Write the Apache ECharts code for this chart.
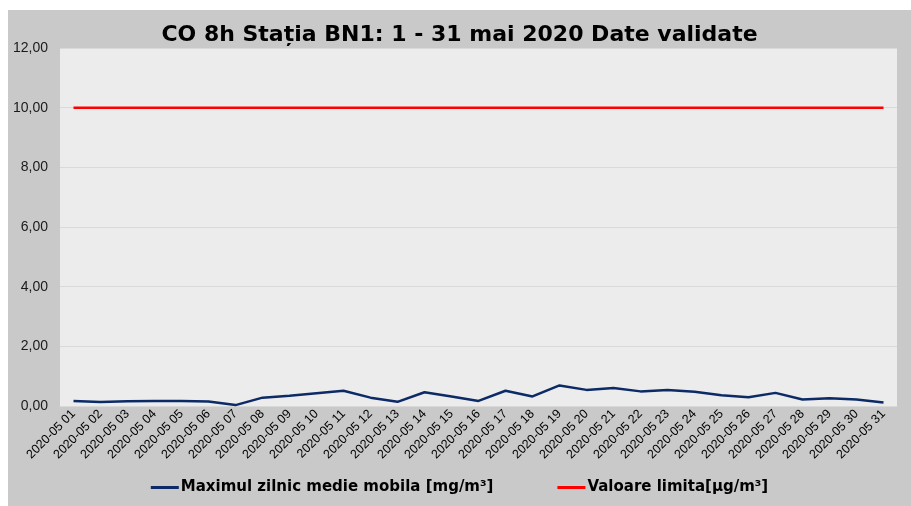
<!DOCTYPE html>
<html>
<head>
<meta charset="utf-8">
<script src="https://cdn.jsdelivr.net/npm/echarts@6/dist/echarts.min.js"></script>
<style>
  html, body { margin: 0; padding: 0; background: #ffffff; }
  #main { position: absolute; left: 8px; top: 10px; width: 903px; height: 496px; }
</style>
</head>
<body>
<div id="main"></div>
<script>
// zilele din mai 2020
var zile = [];
for (var d = 1; d <= 31; d++) {
    zile.push('2020-05 ' + (d < 10 ? '0' + d : d));
}
// maximul zilnic al mediei mobile pe 8h [mg/m3]
var maximZilnic = [0.17, 0.13, 0.16, 0.17, 0.17, 0.15, 0.03, 0.28, 0.34, 0.43,
                   0.51, 0.28, 0.14, 0.46, 0.32, 0.17, 0.51, 0.32, 0.69, 0.54,
                   0.60, 0.49, 0.54, 0.48, 0.36, 0.29, 0.44, 0.22, 0.26, 0.22, 0.12];
// valoarea limita
var limita = [];
for (var i = 0; i < 31; i++) { limita.push(10); }

var numeSerie1 = 'Maximul zilnic medie mobila [mg/m³]';
var numeSerie2 = 'Valoare limita[µg/m³]';

var myChart = echarts.init(document.getElementById('main'));

myChart.setOption({
    backgroundColor: '#c9c9c9',
    animation: false,
    textStyle: { fontFamily: 'Liberation Sans, Arial, sans-serif' },
    title: {
        text: 'CO 8h Stația BN1: 1 - 31 mai 2020 Date validate',
        left: 'center',
        top: 9,
        textStyle: { fontSize: 22, fontWeight: 'bold', color: '#000000', fontFamily: 'DejaVu Sans' }
    },
    legend: {
        bottom: 6,
        left: 'center',
        itemWidth: 28,
        itemHeight: 3,
        itemGap: 64,
        icon: 'rect',
        textStyle: { fontSize: 15, fontWeight: 'bold', color: '#000000', fontFamily: 'DejaVu Sans', padding: [0, 0, 0, -3] },
        data: [numeSerie1, numeSerie2]
    },
    grid: {
        show: true,
        backgroundColor: '#ececec',
        borderWidth: 0,
        left: 52,
        right: 14,
        top: 38,
        bottom: 100
    },
    xAxis: {
        type: 'category',
        data: zile,
        boundaryGap: true,
        axisTick: { show: false },
        axisLine: { show: true, lineStyle: { color: '#d9d9d9' } },
        axisLabel: {
            rotate: 45,
            interval: 0,
            fontSize: 12.5,
            color: '#000000',
            margin: 6
        }
    },
    yAxis: {
        type: 'value',
        min: 0,
        max: 12,
        interval: 2,
        axisLine: { show: false },
        axisTick: { show: false },
        splitLine: { lineStyle: { color: '#d9d9d9', width: 1 } },
        axisLabel: {
            fontSize: 14,
            color: '#1a1a1a',
            margin: 12,
            formatter: function (v) { return v.toFixed(2).replace('.', ','); }
        }
    },
    series: [
        {
            name: numeSerie1,
            type: 'line',
            data: maximZilnic,
            symbol: 'none',
            lineStyle: { color: '#0b2a66', width: 2.5 },
            itemStyle: { color: '#0b2a66' }
        },
        {
            name: numeSerie2,
            type: 'line',
            data: limita,
            symbol: 'none',
            lineStyle: { color: '#ff0000', width: 2.5 },
            itemStyle: { color: '#ff0000' }
        }
    ]
});
</script>
</body>
</html>
